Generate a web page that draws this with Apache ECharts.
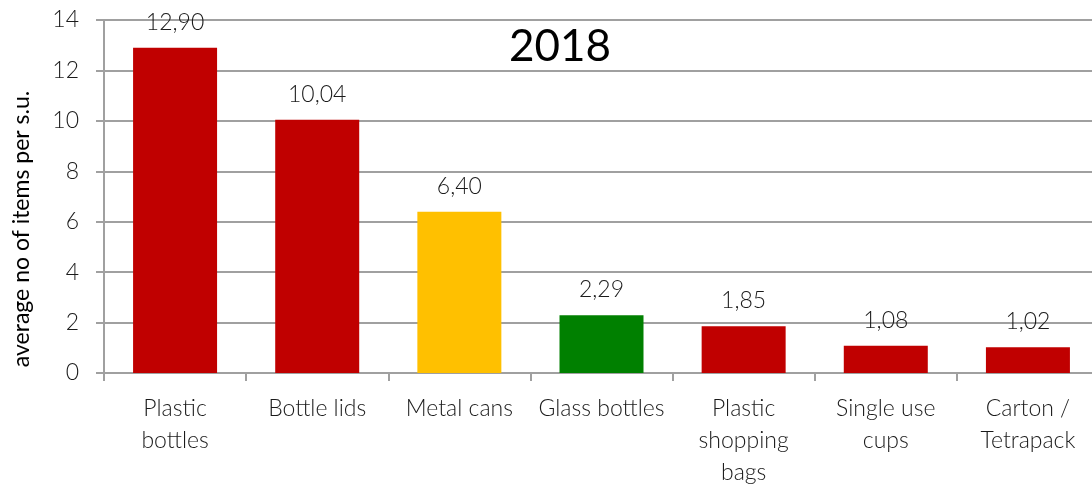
<!DOCTYPE html>
<html>
<head>
<meta charset="utf-8">
<script src="https://cdn.jsdelivr.net/npm/echarts@6/dist/echarts.min.js"></script>
<style>
  html, body { margin: 0; padding: 0; background: #fff; }
  #chart { width: 1092px; height: 485px; }
</style>
</head>
<body>
<div id="chart"></div>
<script>
// Litter items found, average per survey unit
const categories = [
  'Plastic\nbottles',
  'Bottle lids',
  'Metal cans',
  'Glass bottles',
  'Plastic\nshopping\nbags',
  'Single use\ncups',
  'Carton /\nTetrapack'
];
const values = [12.90, 10.04, 6.40, 2.29, 1.85, 1.08, 1.02];
const barColors = ['#C00000', '#C00000', '#FFC000', '#008000', '#C00000', '#C00000', '#C00000'];
const yTicks = [0, 2, 4, 6, 8, 10, 12, 14];
const yAxisTitle = 'average no of items per s.u.';
const chartTitle = '2018';

const FONT = 'Lato, "Open Sans", sans-serif';
const GRID_COLOR = '#a0a0a0';
const TEXT_COLOR = '#1a1a1a';

const chart = echarts.init(document.getElementById('chart'), null, { renderer: 'canvas' });

chart.setOption({
  animation: false,
  title: {
    text: chartTitle,
    left: 555,
    top: 20,
    textAlign: 'center',
    textStyle: { fontFamily: FONT, fontSize: 44, fontWeight: 'normal', color: '#000' }
  },
  grid: { left: 104, top: 20, width: 995, height: 353, containLabel: false, outerBoundsMode: 'none' },
  xAxis: {
    type: 'category',
    data: categories,
    axisLine: { lineStyle: { color: GRID_COLOR, width: 2 } },
    axisTick: { show: true, length: 8, lineStyle: { color: GRID_COLOR, width: 2 } },
    axisLabel: {
      interval: 0,
      margin: 20,
      fontFamily: FONT,
      fontWeight: 300,
      fontSize: 23,
      lineHeight: 32,
      color: TEXT_COLOR
    }
  },
  yAxis: {
    type: 'value',
    min: yTicks[0],
    max: yTicks[yTicks.length - 1],
    interval: yTicks[1] - yTicks[0],
    axisLine: { show: true, lineStyle: { color: GRID_COLOR, width: 2 } },
    axisTick: { show: true, length: 8, lineStyle: { color: GRID_COLOR, width: 2 } },
    axisLabel: { margin: 25, fontFamily: FONT, fontWeight: 300, fontSize: 23, color: TEXT_COLOR },
    splitLine: { show: true, lineStyle: { color: GRID_COLOR, width: 2 } }
  },
  graphic: [{
    type: 'text',
    x: 22,
    y: 229,
    rotation: Math.PI / 2,
    style: {
      text: yAxisTitle,
      fontFamily: FONT,
      fontSize: 23,
      fontWeight: 'normal',
      fill: '#000',
      align: 'center',
      verticalAlign: 'middle'
    }
  }],
  series: [{
    type: 'bar',
    barWidth: 84,
    data: values.map((v, i) => ({ value: v, itemStyle: { color: barColors[i] } })),
    label: {
      show: true,
      position: 'top',
      distance: 14,
      fontFamily: FONT,
      fontWeight: 300,
      fontSize: 23,
      color: TEXT_COLOR,
      formatter: p => p.value.toFixed(2).replace('.', ',')
    }
  }]
});
</script>
</body>
</html>
